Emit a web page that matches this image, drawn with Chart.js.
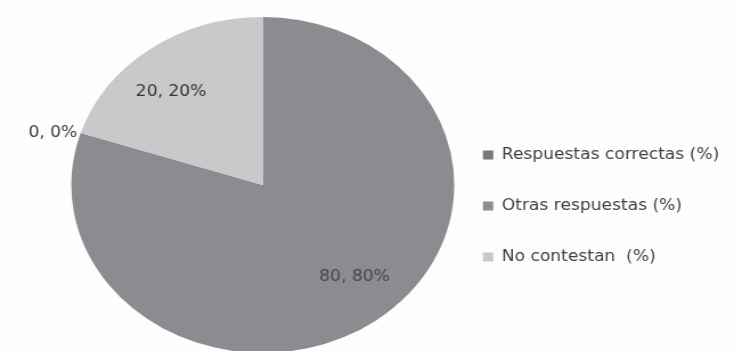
<!DOCTYPE html>
<html><head><meta charset="utf-8">
<script src="https://cdn.jsdelivr.net/npm/chart.js@4"></script>
<style>
html,body{margin:0;padding:0;background:#fff;overflow:hidden}
#wrap{position:absolute;left:0;top:0;width:734px;height:351px;overflow:hidden;background:#fdfdfd}
#inner{position:absolute;left:0;top:0;width:641px;height:370px;transform:scaleX(1.13975);transform-origin:0 0}
canvas{display:block}
</style></head><body>
<div id="wrap"><div id="inner"><canvas id="c" width="641" height="370"></canvas></div></div>
<script>
const categories = ['Respuestas correctas (%)', 'Otras respuestas (%)', 'No contestan  (%)'];
const values = [80, 0, 20];
const sliceColors = ['#8c8c90', '#8e8e90', '#c9c9cb'];
const legendColors = ['#78787a', '#8e8e90', '#c8c8ca'];
const labelColors = ['#48484a', '#3c3c3c', '#363636'];

const total = values.reduce((a, b) => a + b, 0);

const sliceLabels = {
  id: 'sliceLabels',
  afterDatasetsDraw(chart) {
    const ctx = chart.ctx;
    const meta = chart.getDatasetMeta(0);
    ctx.save();
    ctx.font = '15px "DejaVu Sans"';
    ctx.textBaseline = 'middle';
    meta.data.forEach((arc, i) => {
      const p = arc.getProps(['x', 'y', 'startAngle', 'endAngle', 'outerRadius'], true);
      const mid = (p.startAngle + p.endAngle) / 2;
      const text = values[i] + ', ' + Math.round(values[i] / total * 100) + '%';
      ctx.fillStyle = labelColors[i];
      if (values[i] === 0) {
        const ex = p.x + Math.cos(mid) * p.outerRadius;
        const ey = p.y + Math.sin(mid) * p.outerRadius;
        ctx.textAlign = 'right';
        ctx.fillText(text, ex - 3, ey);
      } else {
        const a = mid - 5 * Math.PI / 180;
        const d = p.outerRadius * 0.73;
        ctx.textAlign = 'center';
        ctx.fillText(text, p.x + Math.cos(a) * d, p.y + Math.sin(a) * d);
      }
    });
    ctx.restore();
  }
};

new Chart(document.getElementById('c'), {
  type: 'pie',
  data: {
    labels: categories,
    datasets: [{
      data: values,
      backgroundColor: sliceColors,
      borderWidth: 0,
      radius: 168
    }]
  },
  options: {
    responsive: false,
    animation: false,
    layout: { padding: { left: 73.4, right: 0, top: 0, bottom: 0 } },
    plugins: {
      tooltip: { enabled: false },
      legend: {
        position: 'right',
        align: 'center',
        maxWidth: 320,
        title: { display: true, text: ' ', font: { size: 10, lineHeight: 1 }, padding: { top: 16, bottom: 16 } },
        labels: {
          boxWidth: 9,
          boxHeight: 9,
          padding: 36,
          color: '#404040',
          font: { family: 'DejaVu Sans', size: 15 },
          generateLabels(chart) {
            return categories.map((t, i) => ({
              text: t,
              fillStyle: legendColors[i],
              strokeStyle: legendColors[i],
              lineWidth: 0,
              fontColor: '#404040',
              hidden: false,
              index: i
            }));
          }
        }
      }
    }
  },
  plugins: [sliceLabels]
});
</script>
</body></html>
